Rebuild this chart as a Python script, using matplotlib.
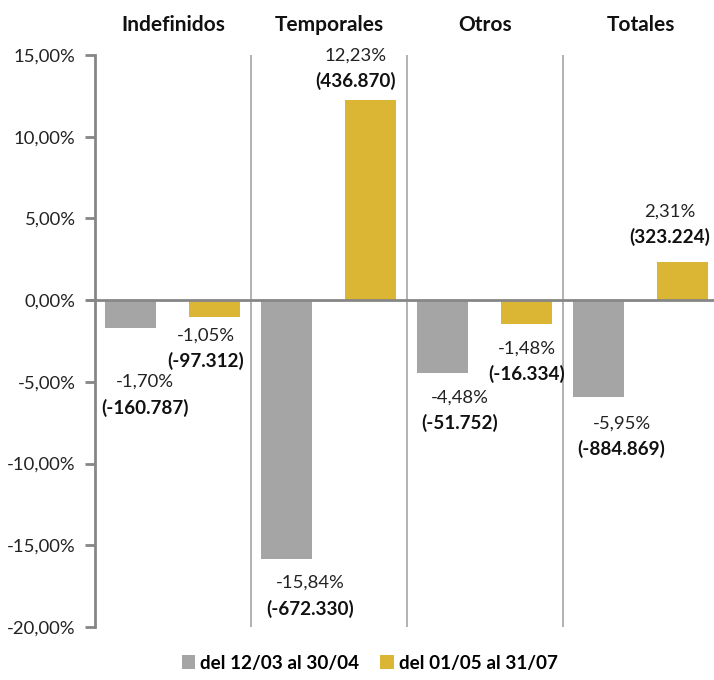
import matplotlib
matplotlib.use('agg')
import matplotlib.pyplot as plt
from matplotlib.ticker import FuncFormatter

categories = ['Indefinidos', 'Temporales', 'Otros', 'Totales']
series_names = ['del 12/03 al 30/04', 'del 01/05 al 31/07']
pct_1 = [-1.70, -15.84, -4.48, -5.95]
pct_2 = [-1.05, 12.23, -1.48, 2.31]
count_1 = ['-160.787', '-672.330', '-51.752', '-884.869']
count_2 = ['-97.312', '436.870', '-16.334', '323.224']

grey = '#A5A5A5'
gold = '#DBB634'
axis_col = '#868686'
sep_col = '#A6A6A6'
font = ['Lato', 'DejaVu Sans']
plt.rcParams['font.family'] = font
PX = 0.72  # points per pixel at dpi 100

# label offsets in pixels relative to bar end: dx, dy of percent line (up positive)
offs_1 = [(14, -54), (24, -24), (17, -24), (23, -26)]
offs_2 = [(-9, -18), (-15, 45), (0, -24), (-13, 51)]

fig = plt.figure(figsize=(7.14, 6.8), dpi=100)
ax = fig.add_axes([95 / 714, 1 - 627 / 680, (714 - 95) / 714, 572 / 680])

w = 0.327
x1 = [i + 0.228 for i in range(4)]
x2 = [i + 0.766 for i in range(4)]
ax.bar(x1, pct_1, w, color=grey, label=series_names[0], zorder=2)
ax.bar(x2, pct_2, w, color=gold, label=series_names[1], zorder=2)

ax.set_xlim(0, (714 - 95) / 156)
ax.set_ylim(-20, 15)
ax.set_yticks(range(-20, 16, 5))
ax.yaxis.set_major_formatter(FuncFormatter(lambda v, p: f'{v:.2f}%'.replace('.', ',')))
ax.set_xticks([])
for s in ['top', 'right', 'bottom']:
    ax.spines[s].set_visible(False)
ax.spines['left'].set_color(axis_col)
ax.spines['left'].set_linewidth(2)
ax.tick_params(axis='y', colors=axis_col, width=2, length=7, labelsize=13.3,
               labelcolor='#222222', pad=7)
ax.axhline(0, color=axis_col, lw=2, zorder=3)
ax.plot([-0.045, 0], [0, 0], color=axis_col, lw=2, clip_on=False, zorder=3)
for i in range(1, 4):
    ax.axvline(i, color=sep_col, lw=1.2, zorder=1)

for i, c in enumerate(categories):
    ax.text(i + 0.5, 15 + 30 / 16.35, c, ha='center', va='center',
            fontsize=15, fontweight='bold', color='#111111')

def label(x, v, cnt, off):
    dx, dy = off[0] * PX, off[1] * PX
    ax.annotate(f'{v:.2f}%'.replace('.', ','), (x, v), xytext=(dx, dy),
                textcoords='offset points', ha='center', va='center',
                fontsize=13.3, color='#222222')
    ax.annotate(f'({cnt})', (x, v), xytext=(dx, dy - 26 * PX),
                textcoords='offset points', ha='center', va='center',
                fontsize=13.6, fontweight='bold', color='#111111')

for i in range(4):
    label(x1[i], pct_1[i], count_1[i], offs_1[i])
    label(x2[i], pct_2[i], count_2[i], offs_2[i])

fig.legend(loc='center', bbox_to_anchor=(0.518, 1 - 663 / 680), ncol=2,
           frameon=False, handlelength=0.7, handleheight=0.7, handletextpad=0.3,
           columnspacing=1.1, prop={'family': font, 'weight': 'bold', 'size': 13.6})

fig.savefig('out.png', dpi=100)
